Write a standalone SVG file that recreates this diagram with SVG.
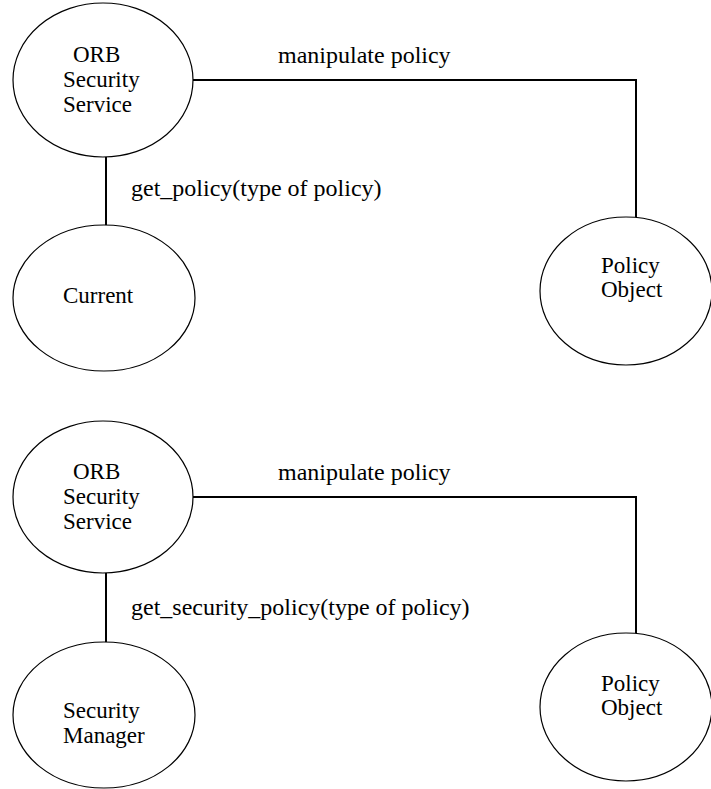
<svg xmlns="http://www.w3.org/2000/svg" width="711" height="789" viewBox="0 0 711 789">
<style>
.node{fill:#fff;stroke:#000;stroke-width:1.2}
.conn{fill:none;stroke:#000;stroke-width:2}
text{font-family:'Liberation Serif','Tinos','Times New Roman','DejaVu Serif',serif;font-size:23px;fill:#000}
.lbl{font-size:24px}
</style>
<rect width="711" height="789" fill="#fff"/>
<g id="connectors">
<polyline class="conn" points="193,80 636,80 636,217"/>
<line class="conn" x1="106" y1="157" x2="106" y2="225"/>
<polyline class="conn" points="193,497 636,497 636,633"/>
<line class="conn" x1="106" y1="573" x2="106" y2="642"/>
<text class="lbl" x="278" y="63">manipulate policy</text>
<text class="lbl" x="131" y="196">get_policy(type of policy)</text>
<text class="lbl" x="278" y="480">manipulate policy</text>
<text class="lbl" x="131" y="615">get_security_policy(type of policy)</text>
</g>
<g id="orb1">
<ellipse class="node" cx="103" cy="80" rx="90" ry="77"/>
<text x="73" y="62">ORB</text>
<text x="63" y="87">Security</text>
<text x="63" y="112">Service</text>
</g>
<g id="current">
<ellipse class="node" cx="104" cy="298" rx="91" ry="73"/>
<text x="63" y="303">Current</text>
</g>
<g id="policy1">
<ellipse class="node" cx="626" cy="291" rx="86" ry="74"/>
<text x="601" y="273">Policy</text>
<text x="601" y="297">Object</text>
</g>
<g id="orb2">
<ellipse class="node" cx="103" cy="497" rx="90" ry="76"/>
<text x="73" y="479">ORB</text>
<text x="63" y="504">Security</text>
<text x="63" y="529">Service</text>
</g>
<g id="secmgr">
<ellipse class="node" cx="104" cy="715" rx="91" ry="73"/>
<text x="63" y="718">Security</text>
<text x="63" y="743">Manager</text>
</g>
<g id="policy2">
<ellipse class="node" cx="626" cy="707" rx="86" ry="74"/>
<text x="601" y="691">Policy</text>
<text x="601" y="715">Object</text>
</g>
</svg>
